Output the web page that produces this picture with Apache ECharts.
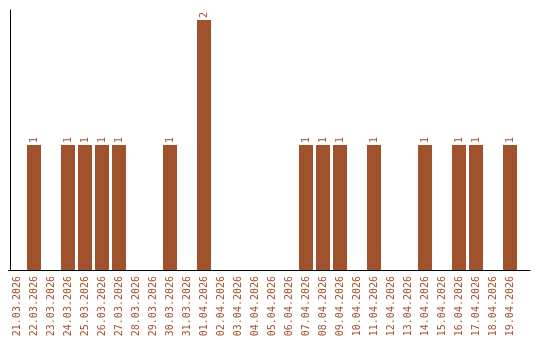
<!DOCTYPE html>
<html><head><meta charset="utf-8">
<script src="https://cdn.jsdelivr.net/npm/echarts@6/dist/echarts.min.js"></script>
<style>html,body{margin:0;padding:0;background:#fff}#c{width:540px;height:340px}</style>
</head><body><div id="c"></div>
<script>
const categories = ["21.03.2026","22.03.2026","23.03.2026","24.03.2026","25.03.2026","26.03.2026","27.03.2026","28.03.2026","29.03.2026","30.03.2026","31.03.2026","01.04.2026","02.04.2026","03.04.2026","04.04.2026","05.04.2026","06.04.2026","07.04.2026","08.04.2026","09.04.2026","10.04.2026","11.04.2026","12.04.2026","13.04.2026","14.04.2026","15.04.2026","16.04.2026","17.04.2026","18.04.2026","19.04.2026"];
const counts = [0,1,0,1,1,1,1,0,0,1,0,2,0,0,0,0,0,1,1,1,0,1,0,0,1,0,1,1,0,1];
const color = '#A0522D';
const font = '"DejaVu Sans Mono", monospace';
const chart = echarts.init(document.getElementById('c'));
chart.setOption({
  animation: false,
  grid: [
    {left: 8.5, width: 510, top: 10, bottom: 70},
    {left: 10, right: 10, top: 10, bottom: 70}
  ],
  xAxis: [
    {type: 'category', data: categories, gridIndex: 0,
     axisLine: {show: true, lineStyle: {color: '#000', width: 1}},
     axisTick: {show: false},
     axisLabel: {rotate: 90, color: color, fontFamily: font, fontSize: 10, margin: 6, interval: 0}},
    {type: 'value', gridIndex: 1, min: 0, max: 1,
     axisLine: {show: true, onZero: false, lineStyle: {color: '#000', width: 1}},
     axisTick: {show: false}, axisLabel: {show: false}, splitLine: {show: false}}
  ],
  yAxis: [
    {type: 'value', gridIndex: 0, min: 0, max: 2.08, offset: -2,
     axisLine: {show: true, lineStyle: {color: '#000', width: 1}},
     axisTick: {show: false}, axisLabel: {show: false}, splitLine: {show: false}},
    {type: 'value', gridIndex: 1, show: false}
  ],
  series: [{
    type: 'bar', data: counts, xAxisIndex: 0, yAxisIndex: 0,
    barWidth: 14,
    itemStyle: {color: color},
    label: {show: true, position: 'top', rotate: 90, align: 'left', verticalAlign: 'middle',
      distance: 2, color: color, fontFamily: font, fontSize: 10,
      formatter: p => p.value ? String(p.value) : ''}
  }]
});
</script></body></html>
